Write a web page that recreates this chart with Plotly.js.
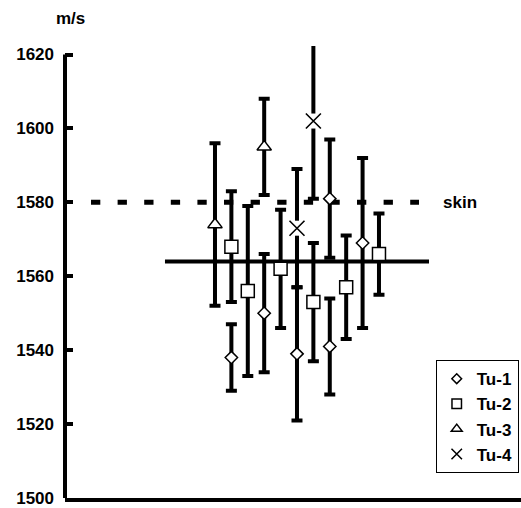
<!DOCTYPE html>
<html>
<head>
<meta charset="utf-8">
<script src="https://cdn.plot.ly/plotly-3.0.1.min.js"></script>
<style>html,body{margin:0;padding:0;background:#fff;}#chart{width:521px;height:508px;}</style>
</head>
<body>
<div id="chart"></div>
<script>
// ---- data ----
var seriesNames = ["Tu-1", "Tu-2", "Tu-3", "Tu-4"];
var tu1X = [2, 4, 6, 8, 8, 10];
var tu1Y = [1538, 1550, 1539, 1581, 1541, 1569];
var tu1Err = [9, 16, 18, 16, 13, 23];
var tu2X = [2, 3, 5, 7, 9, 11];
var tu2Y = [1568, 1556, 1562, 1553, 1557, 1566];
var tu2Err = [15, 23, 16, 16, 14, 11];
var tu3X = [1, 4];
var tu3Y = [1574, 1595];
var tu3Err = [22, 13];
var tu4X = [6, 7];
var tu4Y = [1573, 1602];
var tu4Err = [16, 21];
var skinValue = 1580;
var meanValue = 1564;
var skinLabel = "skin";
var unitLabel = "m/s";
var yTicks = [1500, 1520, 1540, 1560, 1580, 1600, 1620];

// ---- styling / layout ----
var FONT = "Liberation Sans, Arial, sans-serif";
var skinSpan = [-6.56, 13.44];
var meanSpan = [-2.05, 14.05];

function errBar(arr) {
  return {type: 'data', array: arr, visible: true, color: '#000', thickness: 4, width: 5.5};
}
function openMarker(sym, size) {
  return {symbol: sym, size: size, color: '#fff', line: {color: '#000', width: 1.5}};
}

var traces = [
  {x: skinSpan, y: [skinValue, skinValue], mode: 'lines', showlegend: false, hoverinfo: 'skip',
   line: {color: '#000', width: 5, dash: '9.3px,17.3px'}},
  {x: meanSpan, y: [meanValue, meanValue], mode: 'lines', showlegend: false, hoverinfo: 'skip',
   line: {color: '#000', width: 4}},
  {x: tu1X, y: tu1Y, error_y: errBar(tu1Err), mode: 'markers', showlegend: false, marker: openMarker('diamond', 9.5)},
  {x: tu2X, y: tu2Y, error_y: errBar(tu2Err), mode: 'markers', showlegend: false, marker: openMarker('square', 13)},
  {x: tu3X, y: tu3Y, error_y: errBar(tu3Err), mode: 'markers', showlegend: false, marker: openMarker('triangle-up', 12.5)},
  {x: tu4X, y: tu4Y, error_y: errBar(tu4Err), mode: 'markers', showlegend: false,
   marker: {symbol: 'square', size: 15, color: '#fff', line: {width: 0}}},
  {x: tu4X, y: tu4Y, mode: 'markers', showlegend: false,
   marker: {symbol: 'x-thin', size: 15, color: '#000', line: {color: '#000', width: 1.6}}},
  // legend entries
  {x: [null], y: [null], mode: 'markers', name: seriesNames[0], marker: openMarker('diamond', 7.5)},
  {x: [null], y: [null], mode: 'markers', name: seriesNames[1], marker: openMarker('square', 9.5)},
  {x: [null], y: [null], mode: 'markers', name: seriesNames[2], marker: openMarker('triangle-up', 9.5)},
  {x: [null], y: [null], mode: 'markers', name: seriesNames[3],
   marker: {symbol: 'x-thin', size: 10.5, color: '#000', line: {color: '#000', width: 1.5}}}
];

var layout = {
  width: 521, height: 508,
  margin: {l: 65, r: 0, t: 46, b: 10, pad: 0},
  paper_bgcolor: '#fff', plot_bgcolor: '#fff',
  showlegend: true,
  font: {family: FONT, size: 17, color: '#000'},
  xaxis: {range: [-8.146, 19.66], showgrid: false, zeroline: false, showticklabels: false,
          ticks: '', showline: true, linecolor: '#000', linewidth: 4, fixedrange: true},
  yaxis: {range: [1500, 1622.3], showgrid: false, zeroline: false, showline: false,
          tickvals: yTicks, ticktext: yTicks.map(String),
          ticks: 'inside', ticklen: 8, tickwidth: 4, tickcolor: '#000',
          ticklabelstandoff: 10,
          tickfont: {family: FONT, size: 17, color: '#000', weight: 'bold'}, fixedrange: true},
  shapes: [
    {type: 'line', xref: 'paper', yref: 'y', x0: 0, x1: 0, y0: 1499, y1: 1620,
     line: {color: '#000', width: 4}, layer: 'above'}
  ],
  annotations: [
    {xref: 'x', yref: 'y', x: 14.78, y: skinValue, text: skinLabel, showarrow: false,
     xanchor: 'left', yanchor: 'middle', font: {family: FONT, size: 17, color: '#000', weight: 'bold'}},
    {xref: 'paper', yref: 'paper', x: 0.012, y: 1.061, text: unitLabel, showarrow: false,
     xanchor: 'center', yanchor: 'middle', font: {family: FONT, size: 17, color: '#000', weight: 'bold'}}
  ],
  legend: {x: 0.813, y: 0.305, xanchor: 'left', yanchor: 'top', bgcolor: '#fff',
           bordercolor: '#000', borderwidth: 1,
           font: {family: FONT, size: 17, color: '#000', weight: 'bold'}}
};

Plotly.newPlot('chart', traces, layout, {displayModeBar: false, staticPlot: true});
</script>
</body>
</html>
